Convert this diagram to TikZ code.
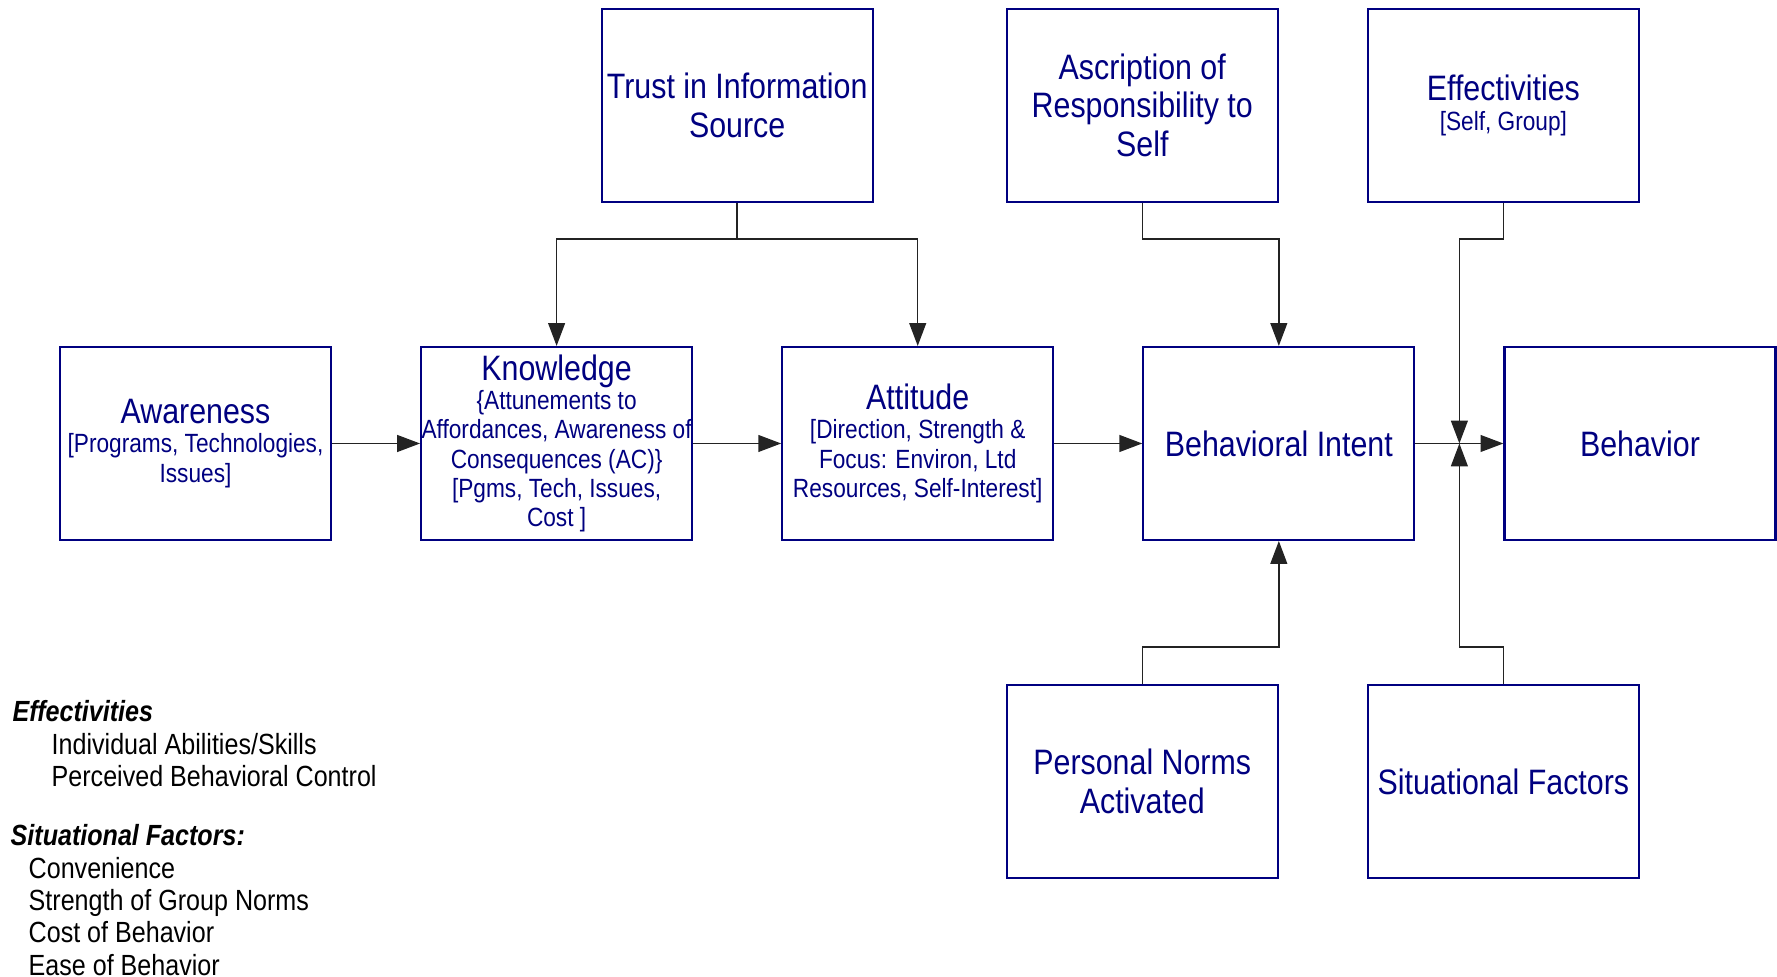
\documentclass[tikz,border=0pt]{standalone}
\usepackage{fontspec}
\setmainfont{Liberation Sans}[FakeStretch=0.86]
\usetikzlibrary{%
	calc,%
	arrows.meta,%
	positioning,%
}
\definecolor{cnavy}{RGB}{0,0,128}
\definecolor{cline}{RGB}{35,35,35}
\tikzset{
	>={Triangle[length=6.5pt,width=4.8pt]},%
	nodes={align=center},%
	factor/.style={%
			draw=cnavy,%
			text=cnavy,%
			rectangle,%
			line width=0.6pt,%
			inner sep=0pt,%
			minimum width=2.71cm,%
			minimum height=1.93cm,%
			font={\fontsize{7.5}{8.3}\selectfont}},%
	factortitle/.style={%
			font={\fontsize{10.05}{11}\selectfont}},%
	link/.style={%
			->,%
			draw=cline,%
			line width=0.4pt},%
	legend/.style={%
			anchor=north west,%
			align=left,%
			inner sep=0pt,%
			font={\fontsize{8.3}{9.2}\selectfont}},%
}
\newcommand{\factorname}[1]{{\fontsize{10.05}{11}\selectfont #1}}
\newcommand{\legendhead}[1]{\textbf{\textit{#1}}}

\begin{document}
\begin{tikzpicture}[node distance=1.43cm and 0.88cm]%
	\useasboundingbox (0,0) rectangle (17.77,-9.77);

	\node[factor] (awareness) at (1.955,-4.435) {\factorname{Awareness}\\
		{[Programs}, Technologies,\\
		Issues]};
	\node[factor, right=of awareness] (knowledge) {\factorname{Knowledge}\\
		\{Attunements to\\
		Affordances, Awareness of\\
		Consequences (AC)\}\\
		{[Pgms}, Tech, Issues,\\
		Cost ]};
	\node[factor, right=of knowledge] (attitude) {\factorname{Attitude}\\
		{[Direction}, Strength \&\\
		Focus: Environ, Ltd\\
		Resources, Self-Interest]};
	\node[factor, factortitle, right=of attitude] (intent) {Behavioral Intent};
	\node[factor, factortitle, right=of intent] (behavior) {Behavior};

	\node[factor, factortitle, above=of $(knowledge.north)!0.5!(attitude.north)$] (trust) {Trust in Information\\ Source};
	\node[factor, factortitle, above=of intent.north west] (ascription) {Ascription of\\ Responsibility to\\ Self};
	\node[factor, above=of behavior.north west] (effect) {\factorname{Effectivities}\\ {[Self}, Group]};
	\node[factor, factortitle, below=of intent.south west] (norms) {Personal Norms\\ Activated};
	\node[factor, factortitle, below=of behavior.south west] (situation) {Situational Factors};

	\node[legend] (legeff) at (0.12,-7.0) {\legendhead{Effectivities}\\
		\hspace*{0.39cm}Individual Abilities/Skills\\
		\hspace*{0.39cm}Perceived Behavioral Control};
	\node[legend] (legsit) at (0.1,-8.24) {\legendhead{Situational Factors:}\\
		\hspace*{0.18cm}Convenience\\
		\hspace*{0.18cm}Strength of Group Norms\\
		\hspace*{0.18cm}Cost of Behavior\\
		\hspace*{0.18cm}Ease of Behavior};

	\coordinate (trustsplit) at ($(trust.south)+(0,-0.36)$);
	\coordinate (merge) at ($(intent.east)!0.5!(behavior.west)$);

	\draw[link] (awareness) -- (knowledge);
	\draw[link] (knowledge) -- (attitude);
	\draw[link] (attitude) -- (intent);
	\draw[link] (intent) -- (behavior);
	\draw[link] (trust.south) -- (trustsplit) -| (knowledge.north);
	\draw[link] (trustsplit) -| (attitude.north);
	\draw[link] (ascription.south) -- ++(0,-0.36) -| (intent.north);
	\draw[link] (effect.south) -- ++(0,-0.36) -| (merge);
	\draw[link] (norms.north) -- ++(0,0.37) -| (intent.south);
	\draw[link] (situation.north) -- ++(0,0.37) -| (merge);
\end{tikzpicture}
\end{document}
